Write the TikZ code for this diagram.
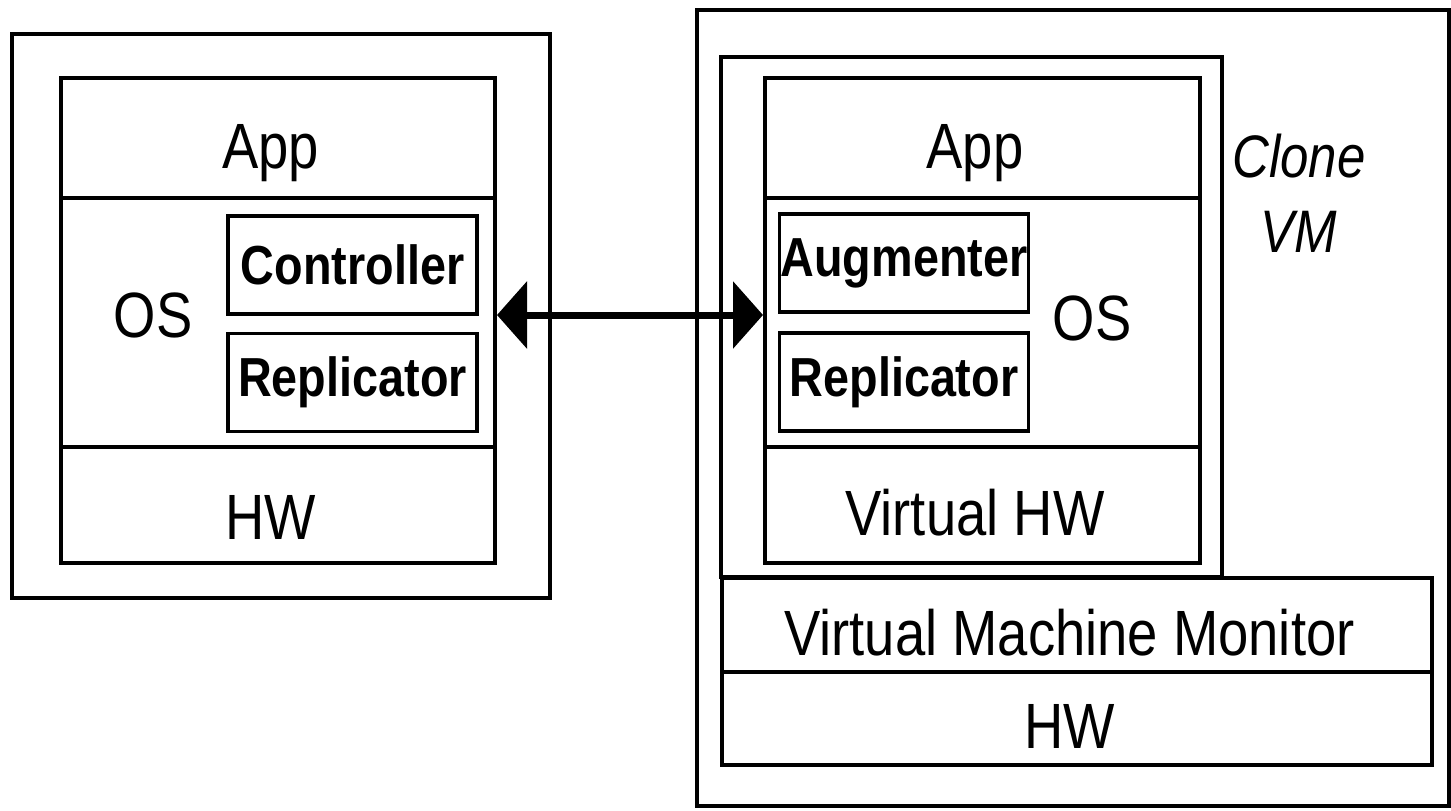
\documentclass[tikz,border=0pt]{standalone}
\usepackage{fontspec}
\setmainfont{Liberation Sans}[FakeStretch=0.85]
\usetikzlibrary{positioning,matrix,arrows.meta}

\begin{document}
\begin{tikzpicture}[x=0.5pt,y=-0.5pt,line width=2pt,
    bigtext/.style={font=\fontsize{32}{36}\selectfont},
    boldtext/.style={font=\bfseries\fontsize{27.5}{30}\selectfont},
    layer/.style={matrix of nodes, row sep=-\pgflinewidth,
        nodes={draw, bigtext, text height=30pt, text depth=0pt,
            align=center, inner sep=0pt}},
    modbox/.style={draw, line width=1.6pt, boldtext, inner sep=0pt,
        minimum width=124.5pt, minimum height=49pt}]
    \useasboundingbox (0,0) rectangle (1451,810);
    %%%%% THE ORIGINAL MACHINE
    \begin{scope}
      \node (lhost) [draw, minimum width=269pt, minimum height=282pt] at (281,316) {};
      \matrix (lstack) [layer, nodes={minimum width=217pt},
        row 1/.style={nodes={minimum height=60pt}},
        row 2/.style={nodes={minimum height=124.5pt}},
        row 3/.style={nodes={minimum height=58pt, text height=34pt}}] at (278,320.5) {
        App \\
        {} \\
        HW \\
      };
      \node (los) [bigtext] at (153,315) {OS};
      \node (lctrl) [modbox] at (352.5,265) {Controller};
      \node (lrepl) [modbox] at (352.5,382.5) {Replicator};
    \end{scope}
    %%%%% THE CLONE HOST
    \begin{scope}
      \node (rhost) [draw, minimum width=376pt, minimum height=398pt] at (1073,408) {};
      \node (clone) [draw, minimum width=250.5pt, minimum height=260pt] at (971.5,317) {};
      \matrix (rstack) [layer, nodes={minimum width=217.5pt},
        row 1/.style={nodes={minimum height=60pt}},
        row 2/.style={nodes={minimum height=124.5pt}},
        row 3/.style={nodes={minimum height=58pt}}] at (982.5,320.5) {
        App \\
        {} \\
        Virtual HW \\
      };
      \node (ros) [bigtext] at (1092,318) {OS};
      \node (raug) [modbox] at (904,263) {Augmenter};
      \node (rrepl) [modbox] at (904,382) {Replicator};
      \node (clonelabel) [font=\itshape\fontsize{30}{37.5}\selectfont, align=center]
        at (1299,193) {Clone\\VM};
      \matrix (vmm) [layer, nodes={minimum width=355pt},
        row 1/.style={nodes={minimum height=47pt}},
        row 2/.style={nodes={minimum height=46.5pt}}] at (1077,671.5) {
        Virtual Machine Monitor \\
        HW \\
      };
    \end{scope}
    %%%% LINK BETWEEN THE TWO OS LAYERS
    \draw [line width=3.5pt, {Triangle[length=15pt,width=33pt]}-{Triangle[length=15pt,width=33pt]}]
      ([yshift=3.75pt]lstack-2-1.east) -- ([yshift=3.75pt]rstack-2-1.west);
\end{tikzpicture}
\end{document}
